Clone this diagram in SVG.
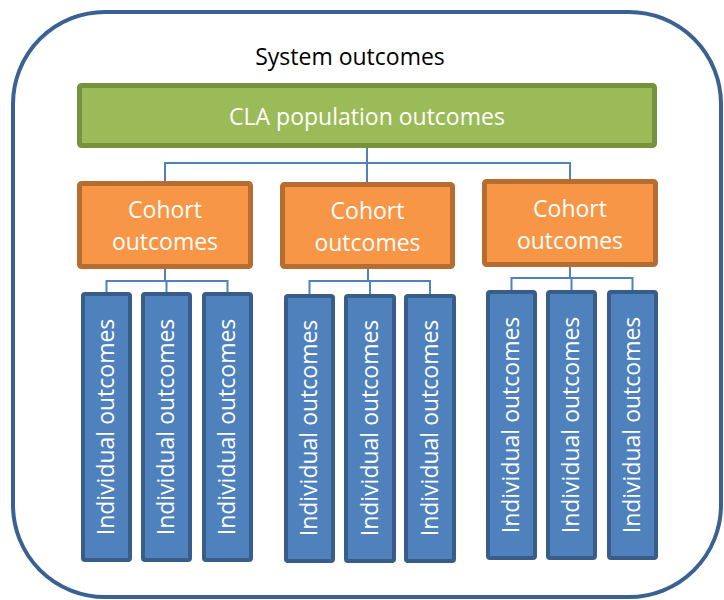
<svg xmlns="http://www.w3.org/2000/svg" width="724" height="600" viewBox="0 0 724 600">
  <style>
    .frame { fill: #ffffff; stroke: #3A6191; stroke-width: 4; }
    .pop { fill: #9BBB59; stroke: #76923C; stroke-width: 5; }
    .cohort { fill: #F79646; stroke: #B66D31; stroke-width: 5; }
    .indiv { fill: #4F81BD; stroke: #385D8A; stroke-width: 4; }
    .link { fill: none; stroke: #4F81BD; stroke-width: 2; }
    text { font-family: "Open Sans", "Liberation Sans", sans-serif; font-size: 23px; }
    .lbl { fill: #ffffff; text-anchor: middle; }
    .title { fill: #000000; text-anchor: middle; }
  </style>

  <!-- outer system boundary -->
  <g id="system">
    <rect class="frame" x="13" y="12" width="708" height="585" rx="92" ry="92"/>
    <text class="title" x="350" y="65">System outcomes</text>
  </g>

  <!-- connectors -->
  <g id="connectors">
    <path class="link" d="M367 148 V163 M165 181 V163 H570 V179 M367 163 V182"/>
    <path class="link" d="M165 269 V281 M106.5 292 V281 H227.5 V292 M166.5 281 V292"/>
    <path class="link" d="M368 269 V281 M309.5 294 V281 H430 V294 M370 281 V294"/>
    <path class="link" d="M570 267 V278 M511.5 290 V278 H632.5 V290 M571.5 278 V290"/>
  </g>

  <g id="population">
    <rect class="pop" x="79.5" y="85.5" width="575" height="60" rx="2"/>
    <text class="lbl" x="367" y="125">CLA population outcomes</text>
  </g>

  <g id="cohort-1">
    <rect class="cohort" x="79.5" y="183.5" width="171" height="83" rx="2"/>
    <text class="lbl" x="165" y="218">Cohort</text>
    <text class="lbl" x="165" y="250">outcomes</text>
  </g>
  <g id="cohort-2">
    <rect class="cohort" x="282.5" y="184.5" width="170" height="82" rx="2"/>
    <text class="lbl" x="367.5" y="219">Cohort</text>
    <text class="lbl" x="367.5" y="251">outcomes</text>
  </g>
  <g id="cohort-3">
    <rect class="cohort" x="484.5" y="181.5" width="171" height="83" rx="2"/>
    <text class="lbl" x="570" y="217">Cohort</text>
    <text class="lbl" x="570" y="249">outcomes</text>
  </g>

  <!-- individual outcome columns -->
  <g id="indiv-1a">
    <rect class="indiv" x="83" y="294" width="47" height="266" rx="2"/>
    <text class="lbl" transform="translate(114 427) rotate(-90)">Individual outcomes</text>
  </g>
  <g id="indiv-1b">
    <rect class="indiv" x="143" y="294" width="47" height="266" rx="2"/>
    <text class="lbl" transform="translate(174 427) rotate(-90)">Individual outcomes</text>
  </g>
  <g id="indiv-1c">
    <rect class="indiv" x="204" y="294" width="47" height="266" rx="2"/>
    <text class="lbl" transform="translate(235 427) rotate(-90)">Individual outcomes</text>
  </g>

  <g id="indiv-2a">
    <rect class="indiv" x="286" y="296" width="47" height="265" rx="2"/>
    <text class="lbl" transform="translate(317 428) rotate(-90)">Individual outcomes</text>
  </g>
  <g id="indiv-2b">
    <rect class="indiv" x="346" y="296" width="48" height="265" rx="2"/>
    <text class="lbl" transform="translate(377.5 428) rotate(-90)">Individual outcomes</text>
  </g>
  <g id="indiv-2c">
    <rect class="indiv" x="406" y="296" width="48" height="265" rx="2"/>
    <text class="lbl" transform="translate(437.5 428) rotate(-90)">Individual outcomes</text>
  </g>

  <g id="indiv-3a">
    <rect class="indiv" x="488" y="292" width="47" height="266" rx="2"/>
    <text class="lbl" transform="translate(519 425) rotate(-90)">Individual outcomes</text>
  </g>
  <g id="indiv-3b">
    <rect class="indiv" x="548" y="292" width="47" height="266" rx="2"/>
    <text class="lbl" transform="translate(579 425) rotate(-90)">Individual outcomes</text>
  </g>
  <g id="indiv-3c">
    <rect class="indiv" x="609" y="292" width="47" height="266" rx="2"/>
    <text class="lbl" transform="translate(640 425) rotate(-90)">Individual outcomes</text>
  </g>
</svg>
